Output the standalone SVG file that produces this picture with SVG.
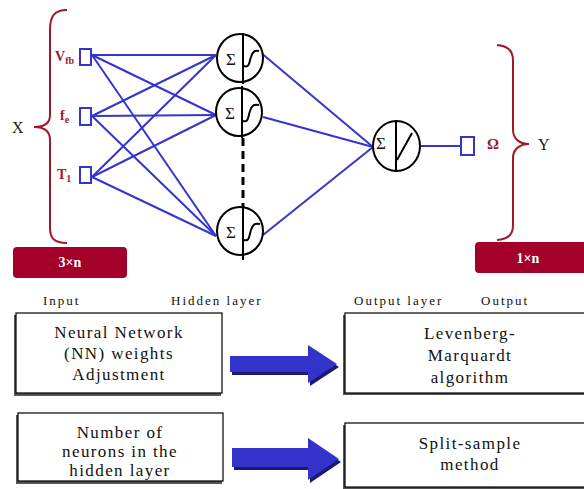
<svg xmlns="http://www.w3.org/2000/svg" width="584" height="489" viewBox="0 0 584 489">
<style>
.w{stroke:#3535CC;stroke-width:2;fill:none}
.inbox{fill:#fff;stroke:#3535CC;stroke-width:2}
.neu{fill:#fff;stroke:#000;stroke-width:2}
.bl{stroke:#000;stroke-width:2;fill:none}
.sig{font-family:"Liberation Serif",serif;font-size:17px;fill:#111}
.red{font-family:"Liberation Serif",serif;font-weight:bold;fill:#A0182A}
.brace{stroke:#A0182A;stroke-width:2;fill:none}
.dim{fill:#A3002A}
.dimt{font-family:"Liberation Serif",serif;font-size:14px;font-weight:bold;fill:#fff;text-anchor:middle}
.lbl{font-family:"Liberation Serif",serif;font-size:13px;fill:#111;letter-spacing:2px}
.btxt{font-family:"Liberation Serif",serif;font-size:17px;fill:#111;text-anchor:middle;letter-spacing:1.4px}
.box{fill:#fff;stroke:#000;stroke-width:1.2}
.shadow{fill:#555}
.arr{fill:#3333CC}
.arrs{fill:#1a1a70}
.bk{font-family:"Liberation Serif",serif;font-size:16px;fill:#222}
</style>
<rect width="584" height="489" fill="#fff"/>

<g id="connectors">
  <line class="w" x1="92" y1="55" x2="216" y2="55"/>
  <line class="w" x1="92" y1="55" x2="216" y2="115"/>
  <line class="w" x1="92" y1="55" x2="216" y2="236"/>
  <line class="w" x1="92" y1="116" x2="216" y2="55"/>
  <line class="w" x1="92" y1="116" x2="216" y2="115"/>
  <line class="w" x1="92" y1="116" x2="216" y2="236"/>
  <line class="w" x1="92" y1="177" x2="216" y2="55"/>
  <line class="w" x1="92" y1="177" x2="216" y2="115"/>
  <line class="w" x1="92" y1="177" x2="216" y2="236"/>
  <line class="w" x1="260" y1="52" x2="373" y2="147"/>
  <line class="w" x1="263" y1="117" x2="373" y2="147"/>
  <line class="w" x1="263" y1="235" x2="373" y2="147"/>
  <line class="w" x1="420" y1="146" x2="461" y2="146"/>
  <line x1="243" y1="138" x2="243" y2="207" stroke="#000" stroke-width="3" stroke-dasharray="8,5"/>
</g>

<g id="X">
  <path class="brace" d="M67,10 C53,10 50,18 50,30 L50,115 C50,124 43,127 34,127 C43,127 50,130 50,140 L50,228 C50,238 54,243 67,243"/>
  <text class="bk" x="12" y="133">X</text>
</g>

<g id="in-vfb">
  <rect class="inbox" x="80" y="49" width="11" height="16"/>
  <text class="red" x="55" y="61" font-size="14">V<tspan font-size="10" dy="3">fb</tspan></text>
</g>
<g id="in-fe">
  <rect class="inbox" x="80" y="108" width="11" height="17"/>
  <text class="red" x="60" y="120" font-size="14">f<tspan font-size="10" dy="3">e</tspan></text>
</g>
<g id="in-t1">
  <rect class="inbox" x="80" y="167" width="11" height="16"/>
  <text class="red" x="57" y="179" font-size="14">T<tspan font-size="10" dy="3">1</tspan></text>
</g>

<g id="h1">
  <ellipse class="neu" cx="240" cy="58" rx="23" ry="24"/>
  <line class="bl" x1="243" y1="33" x2="243" y2="84"/>
  <path class="bl" d="M244,66 C250,68 249,62 251,57 C253,51 255,50 259,51"/>
  <text class="sig" x="226" y="65">Σ</text>
</g>
<g id="h2">
  <ellipse class="neu" cx="239" cy="112" rx="23" ry="24"/>
  <line class="bl" x1="242" y1="86" x2="242" y2="138"/>
  <path class="bl" d="M243,121 C249,123 248,116 250,111 C252,105 254,104 259,105"/>
  <text class="sig" x="225" y="119">Σ</text>
</g>
<g id="h3">
  <ellipse class="neu" cx="240" cy="231" rx="23" ry="24"/>
  <line class="bl" x1="243" y1="205" x2="243" y2="260"/>
  <path class="bl" d="M244,240 C250,242 249,235 251,230 C253,224 255,223 260,224"/>
  <text class="sig" x="226" y="238">Σ</text>
</g>

<g id="out-neuron">
  <ellipse class="neu" cx="396.5" cy="146" rx="23.5" ry="25"/>
  <line class="bl" x1="396" y1="121" x2="396" y2="171"/>
  <line class="bl" x1="397" y1="160" x2="412" y2="133"/>
  <text class="sig" x="376" y="149">Σ</text>
</g>

<g id="out-omega">
  <rect class="inbox" x="461" y="137" width="13" height="18"/>
  <text class="red" x="487" y="149" font-size="15">Ω</text>
</g>

<g id="Y">
  <path class="brace" d="M497,45 C509,46 513,52 513,60 L513,130 C513,139 520,144 529,144 C520,144 513,149 513,158 L513,225 C513,234 509,239 497,240"/>
  <text class="bk" x="538" y="150">Y</text>
</g>

<g id="dim3n">
  <rect class="dim" x="13" y="247" width="114" height="31" rx="4"/>
  <text class="dimt" x="70" y="267">3×n</text>
</g>
<g id="dim1n">
  <rect class="dim" x="475" y="242" width="114" height="31" rx="4"/>
  <text class="dimt" x="528" y="263">1×n</text>
</g>

<g id="labels">
  <text class="lbl" x="43" y="305">Input</text>
  <text class="lbl" x="171" y="305">Hidden layer</text>
  <text class="lbl" x="354" y="305">Output layer</text>
  <text class="lbl" x="481" y="305">Output</text>
</g>

<g id="box-nn">
  <rect class="shadow" x="14" y="315" width="207" height="81"/>
  <rect class="box" x="16" y="313" width="206" height="80"/>
  <text class="btxt" x="119" y="338">Neural Network</text>
  <text class="btxt" x="119" y="359">(NN) weights</text>
  <text class="btxt" x="119" y="380">Adjustment</text>
</g>
<g id="box-neurons">
  <rect class="shadow" x="16" y="415" width="206" height="69"/>
  <rect class="box" x="18" y="413" width="205" height="68"/>
  <text class="btxt" x="120" y="438">Number of</text>
  <text class="btxt" x="120" y="457">neurons in the</text>
  <text class="btxt" x="120" y="476">hidden layer</text>
</g>
<g id="box-lm">
  <rect class="shadow" x="343" y="315" width="245" height="80"/>
  <rect class="box" x="345" y="313" width="245" height="80"/>
  <text class="btxt" x="470" y="339">Levenberg-</text>
  <text class="btxt" x="470" y="361">Marquardt</text>
  <text class="btxt" x="470" y="383">algorithm</text>
</g>
<g id="box-split">
  <rect class="shadow" x="343" y="425" width="245" height="64"/>
  <rect class="box" x="345" y="423" width="245" height="64"/>
  <text class="btxt" x="470" y="449">Split-sample</text>
  <text class="btxt" x="470" y="470">method</text>
</g>

<g id="arrow1">
  <path class="arrs" d="M232,359 L310,359 L310,348 L339,367 L310,386 L310,375 L232,375 Z"/>
  <path class="arr" d="M230,356 L308,356 L308,345 L337,364 L308,383 L308,372 L230,372 Z"/>
</g>
<g id="arrow2">
  <path class="arrs" d="M234,451 L310,451 L310,441 L341,462 L310,483 L310,470 L234,470 Z"/>
  <path class="arr" d="M232,448 L308,448 L308,438 L339,459 L308,480 L308,467 L232,467 Z"/>
</g>
</svg>
